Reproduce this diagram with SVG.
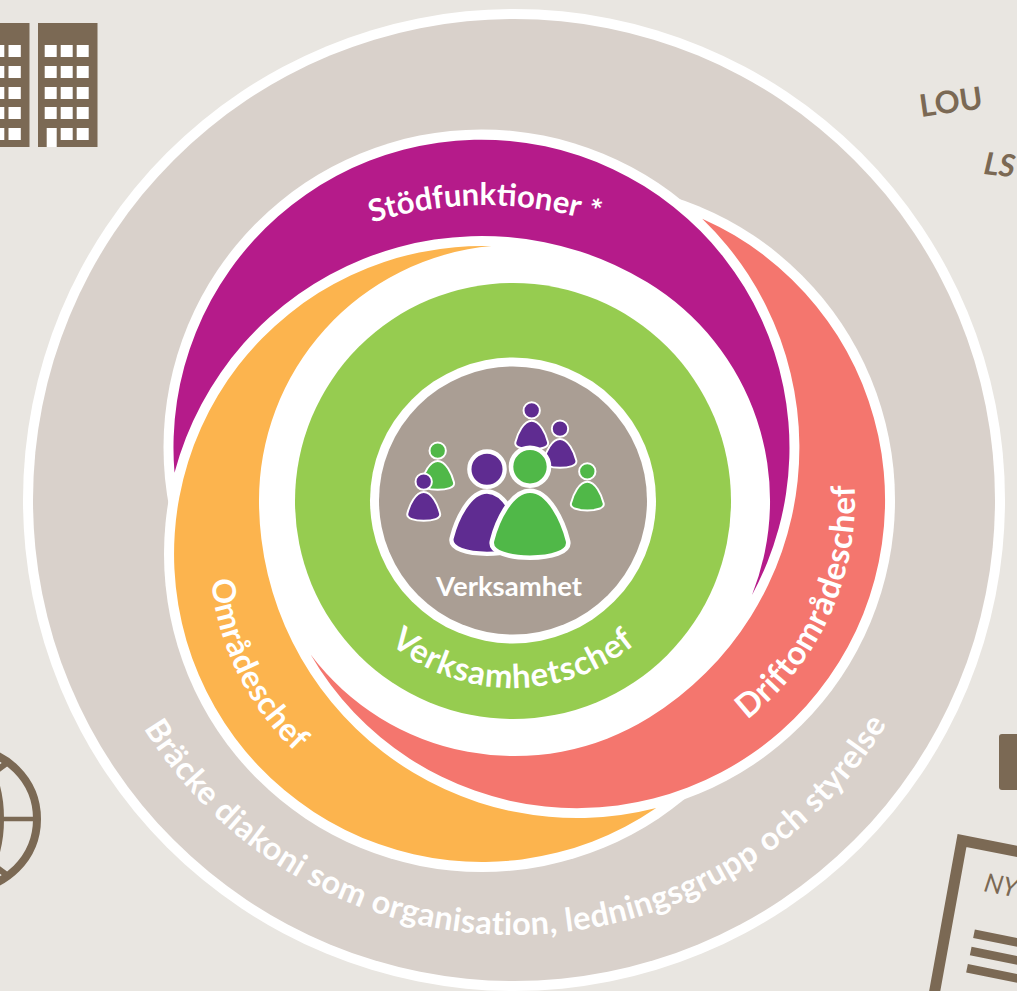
<svg xmlns="http://www.w3.org/2000/svg" xmlns:xlink="http://www.w3.org/1999/xlink" width="1017" height="991" viewBox="0 0 1017 991">
<style>
text{font-family:Lato,"Open Sans","Liberation Sans",sans-serif;font-weight:700}
.w{fill:#fff}
.lbl{fill:#fff;font-size:32px}
.br{fill:#7b6954}
.p{stroke:#fff;stroke-width:4.6}
.pp{fill:#5f2c91}
.pg{fill:#50b848}
</style>
<defs>
<path id="arc-stod" d="M254 287A367 367 0 0 1 716 287"/>
<path id="arc-verk" d="M320 495A193 193 0 0 0 706 495"/>
<path id="arc-bracke" d="M79 500A435 435 0 0 0 949 500"/>
<path id="arc-omr" d="M210 554A272 272 0 0 0 482 826A272 272 0 0 0 754 554"/>
<path id="arc-drift" d="M577 778A278 278 0 0 0 855 500A278 278 0 0 0 577 222"/>
<g id="person"><path d="M0 0C19 0 33 30 38 50C41 62 20 67 0 67C-20 67 -41 62 -38 50C-33 30 -19 0 0 0Z"/><circle cx="0" cy="-24" r="19"/></g>
</defs>
<rect width="1017" height="991" fill="#e9e6e1"/>
<g id="backdrop-icons">
<g id="buildings" class="br">
<rect x="-20" y="23" width="49.500" height="124"/>
<rect x="38" y="23" width="59.500" height="124"/>
<g class="w">
<rect x="-8" y="45" width="12.300" height="12"/><rect x="8.500" y="45" width="12.300" height="12"/>
<rect x="-8" y="66" width="12.300" height="12"/><rect x="8.500" y="66" width="12.300" height="12"/>
<rect x="-8" y="87" width="12.300" height="12"/><rect x="8.500" y="87" width="12.300" height="12"/>
<rect x="-8" y="107" width="12.300" height="12"/><rect x="8.500" y="107" width="12.300" height="12"/>
<rect x="-8" y="128" width="12.300" height="12"/><rect x="8.500" y="128" width="12.300" height="12"/>
<rect x="44.700" y="45" width="12" height="12"/><rect x="60.700" y="45" width="12" height="12"/><rect x="76.700" y="45" width="12" height="12"/>
<rect x="44.700" y="66" width="12" height="12"/><rect x="60.700" y="66" width="12" height="12"/><rect x="76.700" y="66" width="12" height="12"/>
<rect x="44.700" y="87" width="12" height="12"/><rect x="60.700" y="87" width="12" height="12"/><rect x="76.700" y="87" width="12" height="12"/>
<rect x="44.700" y="107" width="12" height="12"/><rect x="60.700" y="107" width="12" height="12"/><rect x="76.700" y="107" width="12" height="12"/>
<rect x="46.700" y="128" width="10" height="19"/><rect x="60.700" y="128" width="12" height="12"/><rect x="76.700" y="128" width="12" height="12"/>
</g>
</g>
<g id="globe" fill="none" stroke="#7b6954">
<circle cx="-33" cy="819" r="70" stroke-width="8"/>
<path d="M-33 819H36" stroke-width="4.500"/>
<ellipse cx="-33" cy="819" rx="35" ry="70" stroke-width="4"/>
<path d="M8 762L-4 771M8 876L-4 867" stroke-width="6"/>
</g>
<g id="lou-text" class="br"><text transform="translate(921 117) rotate(-8)" font-size="31">LOU</text></g>
<g id="ls-text" class="br"><text transform="translate(983 174) rotate(6)" font-size="31" font-style="italic">LS</text></g>
<rect id="tab" x="999" y="734" width="30" height="56" rx="3" class="br"/>
<g id="document">
<path d="M934 995L962 840.500L1030 854" fill="none" stroke="#7b6954" stroke-width="11"/>
<text transform="translate(983 891) rotate(11)" font-size="26" class="br" style="font-weight:400;font-style:italic">NY</text>
<path d="M974 933.700L1030 945M970.700 951L1030 963M967 968.200L1030 981" fill="none" stroke="#7b6954" stroke-width="8.700"/>
</g>
</g>
<g id="organisation">
<circle cx="514" cy="500" r="491" class="w"/>
<circle cx="514" cy="500" r="481" fill="#d9d1cb"/>
<text class="lbl" style="font-size:32.500px;letter-spacing:.4px"><textPath href="#arc-bracke" xlink:href="#arc-bracke" startOffset="50.200%" text-anchor="middle">Bräcke diakoni som organisation, ledningsgrupp och styrelse</textPath></text>
</g>
<g id="halos" class="w">
<circle cx="577" cy="500" r="318"/>
<circle cx="481.500" cy="447.500" r="318"/>
<circle cx="482" cy="554" r="318"/>
<circle cx="514.490" cy="500.600" r="255.490"/>
</g>
<g id="stodfunktioner">
<path fill="#b51b8a" d="M174.500 472.800A308 308 0 1 1 752 594.900A255.490 255.490 0 0 0 647.300 282.300A318 318 0 0 0 174.500 472.800Z"/>
<text class="lbl" style="font-size:31px"><textPath href="#arc-stod" xlink:href="#arc-stod" startOffset="50%" text-anchor="middle">Stödfunktioner *</textPath></text>
</g>
<g id="omradeschef">
<path fill="#fcb44e" d="M491.400 246.100A308 308 0 1 0 656.200 808A318 318 0 0 1 259 503.050A255.490 255.490 0 0 1 491.400 246.100Z"/>
<text class="lbl" style="letter-spacing:.4px"><textPath href="#arc-omr" xlink:href="#arc-omr" startOffset="26">Områdeschef</textPath></text>
</g>
<g id="driftomradeschef">
<path fill="#f4766e" d="M310.600 654.600A308 308 0 1 0 702.200 218.700A318 318 0 0 1 649.300 717.600A255.490 255.490 0 0 1 310.600 654.600Z"/>
<text class="lbl" style="font-size:33px;letter-spacing:.6px"><textPath href="#arc-drift" xlink:href="#arc-drift" startOffset="183">Driftområdeschef</textPath></text>
</g>
<g id="verksamhetschef">
<circle cx="513" cy="501" r="218" fill="#96cc50"/>
<text class="lbl" style="font-size:33px;letter-spacing:.9px"><textPath href="#arc-verk" xlink:href="#arc-verk" startOffset="50%" text-anchor="middle">Verksamhetschef</textPath></text>
</g>
<g id="verksamhet">
<circle cx="513" cy="500.500" r="143" class="w"/>
<circle cx="513" cy="500.500" r="134" fill="#aa9e94"/>
<g class="p">
<use href="#person" xlink:href="#person" class="pp" transform="translate(531.700 420.700) scale(.43)"/>
<use href="#person" xlink:href="#person" class="pp" transform="translate(560 439) scale(.43)"/>
<use href="#person" xlink:href="#person" class="pg" transform="translate(587.300 481.700) scale(.43)"/>
<use href="#person" xlink:href="#person" class="pg" transform="translate(437.700 461) scale(.43)"/>
<use href="#person" xlink:href="#person" class="pp" transform="translate(423.700 492) scale(.43)"/>
<use href="#person" xlink:href="#person" class="pp" transform="translate(487 491.500) scale(.93)"/>
<use href="#person" xlink:href="#person" class="pg" transform="translate(530 490.700)"/>
</g>
<text x="509" y="596" text-anchor="middle" font-size="27.500" class="w">Verksamhet</text>
</g>
</svg>
